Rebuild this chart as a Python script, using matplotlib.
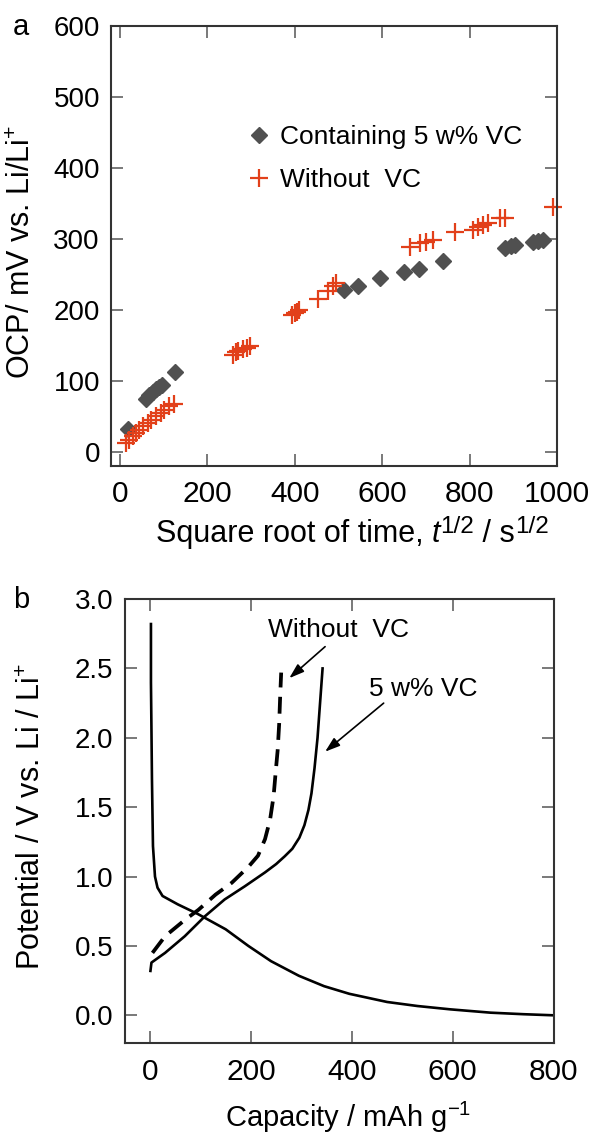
import numpy as np
import matplotlib
matplotlib.use("Agg")
import matplotlib.pyplot as plt
from matplotlib.transforms import IdentityTransform

plt.rcParams['font.family'] = ['Liberation Sans', 'DejaVu Sans']
plt.rcParams['mathtext.fontset'] = 'custom'
plt.rcParams['mathtext.rm'] = 'Liberation Sans'
plt.rcParams['mathtext.it'] = 'Liberation Sans:italic'

# panel a: OCP vs sqrt(t)
vc_t = [20, 60, 68, 75, 83, 90, 97, 127,
        514, 545, 595, 651, 684, 740,
        880, 895, 905, 945, 956, 968]
vc_ocp = [32, 75, 80, 85, 88, 91, 94, 113,
          228, 234, 245, 254, 258, 269,
          287, 290, 291, 296, 297, 298]

novc_t = [14, 22, 30, 37, 45, 53, 64, 72, 83, 94, 102, 113, 125,
          258, 265, 270, 283, 290, 297,
          395, 400, 405, 410,
          453, 476, 488, 495,
          663, 686, 701, 716, 766, 808, 819, 830, 842, 869, 880, 990]
novc_ocp = [12, 17, 22, 26, 31, 36, 40, 45, 50, 55, 59, 64, 68,
            137, 140, 142, 145, 147, 149,
            193, 195, 197, 200,
            216, 226, 233, 238,
            289, 294, 296, 299, 310, 313, 317, 320, 322, 329, 329, 345]

# panel b: charge/discharge curves
dis_cap = [2, 2, 3, 4, 6, 10, 15, 25, 55, 95, 115, 150, 195, 240, 295,
           345, 395, 470, 530, 595, 675, 740, 800]
dis_v = [2.82, 2.4, 2.06, 1.7, 1.22, 1.0, 0.92, 0.86, 0.80, 0.73, 0.69,
         0.62, 0.5, 0.39, 0.285, 0.21, 0.155, 0.096, 0.067, 0.043, 0.019,
         0.008, 0.0]

vc_cap = [1, 3, 30, 69, 109, 148, 188, 228, 250, 267, 282, 296, 306,
          314, 320, 326, 332, 337, 342]
vc_v = [0.32, 0.38, 0.45, 0.57, 0.714, 0.835, 0.93, 1.03, 1.09, 1.146,
        1.2, 1.28, 1.37, 1.48, 1.6, 1.78, 2.0, 2.25, 2.5]

nvc_cap = [5, 30, 70, 96, 130, 162, 195, 214, 228, 238, 245, 249, 253,
           256, 258, 260]
nvc_v = [0.45, 0.57, 0.69, 0.76, 0.87, 0.955, 1.07, 1.15, 1.27, 1.41,
         1.58, 1.75, 1.91, 2.1, 2.3, 2.47]

fig = plt.figure(figsize=(5.91, 11.35), dpi=100)
ax1 = fig.add_axes([0.1878, 0.5894, 0.7547, 0.3877])
ax2 = fig.add_axes([0.211, 0.081, 0.726, 0.3912])


def style(ax, xpad):
    for s in ax.spines.values():
        s.set_linewidth(1.5)
        s.set_color('#333333')
    ax.tick_params(direction='in', top=True, right=True, length=8.5,
                   width=1.1, color='#555555')
    ax.tick_params(axis='x', pad=xpad, labelsize=21.5)
    ax.tick_params(axis='y', pad=8, labelsize=20)


def rich(x_mid, y_base, pieces):
    # lay out text pieces side by side in pixel coordinates
    r = fig.canvas.get_renderer()
    items = []
    total = 0
    for s, size, st, dy in pieces:
        t = fig.text(0, 0, s, fontsize=size, style=st, va='baseline',
                     ha='left', transform=IdentityTransform())
        w = t.get_window_extent(r).width
        items.append((t, w, dy))
        total += w
    x = x_mid - total / 2
    for t, w, dy in items:
        t.set_position((x, y_base + dy))
        x += w


# ---- a ----
ax1.plot(vc_t, vc_ocp, 'D', color='#505050', ms=8.3, ls='none',
         label='Containing 5 w% VC', clip_on=False)
ax1.plot(novc_t, novc_ocp, '+', color='#e2401a', ms=13, mew=1.6, ls='none',
         label='Without  VC', clip_on=False)
ax1.set_xlim(-20, 1000)
ax1.set_ylim(-20, 600)
ax1.set_xticks([0, 200, 400, 600, 800, 1000])
ax1.set_yticks([0, 100, 200, 300, 400, 500, 600])
style(ax1, 10)
ax1.set_ylabel('OCP/ mV vs. Li/Li$^{\\mathrm{+}}$', fontsize=22)
ax1.yaxis.set_label_coords(-0.166, 0.486)
ax1.legend(loc='upper left', bbox_to_anchor=(0.303, 0.774), frameon=False,
           fontsize=19, numpoints=1, handlelength=1.0, handletextpad=0.3,
           borderpad=0, borderaxespad=0, labelspacing=0.72)

rich(352, 1135 - 542, [('Square root of time, ', 22, 'normal', 0),
                       ('t', 22, 'italic', 0),
                       ('1/2', 17.5, 'normal', 9),
                       (' / s', 22, 'normal', 0),
                       ('1/2', 17.5, 'normal', 9)])

# ---- b ----
ax2.plot(dis_cap, dis_v, color='black', lw=1.9)
ax2.plot(vc_cap, vc_v, color='black', lw=1.9)
ax2.plot(nvc_cap, nvc_v, color='black', lw=2.7, dashes=(4.5, 2.5))
ax2.set_xlim(-50, 800)
ax2.set_ylim(-0.2, 3.0)
ax2.set_xticks([0, 200, 400, 600, 800])
ax2.set_yticks([0.0, 0.5, 1.0, 1.5, 2.0, 2.5, 3.0])
ax2.yaxis.set_major_formatter(matplotlib.ticker.FormatStrFormatter('%.1f'))
style(ax2, 11)
ax2.set_xlabel('Capacity / mAh g$^{\\mathrm{-1}}$', fontsize=21)
ax2.set_ylabel('Potential / V vs. Li / Li$^{\\mathrm{+}}$', fontsize=22)
ax2.xaxis.set_label_coords(0.52, -0.128)
ax2.yaxis.set_label_coords(-0.18, 0.51)

arw = dict(arrowstyle='-|>,head_length=0.9,head_width=0.3', color='black',
           lw=1.2, shrinkA=0, shrinkB=0)
ax2.annotate('Without  VC', xy=(373, 2.78), fontsize=19,
             ha='center', va='center')
ax2.annotate('', xy=(276, 2.43), xytext=(347, 2.657), arrowprops=arw)
ax2.annotate('5 w% VC', xy=(541, 2.35), fontsize=19, ha='center',
             va='center')
ax2.annotate('', xy=(347, 1.90), xytext=(463, 2.25), arrowprops=arw)

fig.text(21 / 591, 1 - 27 / 1135, 'a', fontsize=21, ha='center', va='center')
fig.text(21 / 591, 1 - 600 / 1135, 'b', fontsize=21, ha='center', va='center')

fig.savefig('out.png', dpi=100)
